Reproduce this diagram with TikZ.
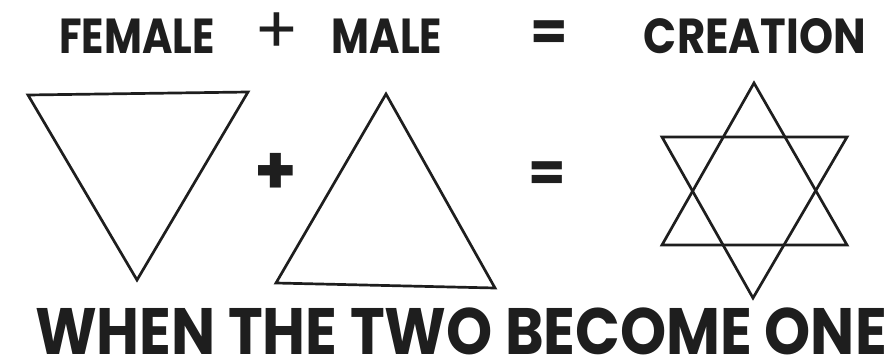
\documentclass[tikz,border=0pt]{standalone}
\usepackage{fontspec}
\setmainfont{Poppins}
\definecolor{ink}{HTML}{1E1E1E}
\begin{document}
\begin{tikzpicture}[x=0.03cm, y=-0.03cm,
  word/.style={font=\fontsize{42}{42}\selectfont\bfseries, text=ink,
    anchor=base, inner sep=0pt, xscale=0.84},
  motto/.style={font=\fontsize{56}{56}\selectfont\bfseries, text=ink,
    anchor=base, inner sep=0pt, xscale=0.895},
  sign/.style={font=\fontsize{56}{56}\selectfont, text=ink, inner sep=0pt},
  bigsign/.style={font=\fontsize{46}{46}\selectfont\bfseries, text=ink, inner sep=0pt},
  tri/.style={draw=ink, line width=2.3pt, line join=miter},
]
\useasboundingbox[fill=white] (0,0) rectangle (896,363);

% Top line
\node[word] (female) at (137, 53) {FEMALE};
\node[sign] (plus1) at (277, 33) {+};
\node[word] (male) at (387, 53) {MALE};
\node[bigsign] (eq1) at (549, 36) {=};
\node[word, xscale=1.05] (creation) at (755, 53) {CREATION};

% Female: down triangle
\coordinate (f1) at (28, 95);
\coordinate (f2) at (248, 92);
\coordinate (f3) at (137, 280);
\draw[tri] (f1) -- (f2) -- (f3) -- cycle;

\node[bigsign, font=\fontsize{58}{58}\selectfont\bfseries] (plus2) at (276, 174) {+};

% Male: up triangle
\coordinate (m1) at (386, 94);
\coordinate (m2) at (495, 288);
\coordinate (m3) at (276, 283);
\draw[tri] (m1) -- (m2) -- (m3) -- cycle;

\node[bigsign] (eq2) at (547, 177) {=};

% Creation: both triangles
\coordinate (su1) at (754, 83);
\coordinate (su2) at (847, 245);
\coordinate (su3) at (662, 245);
\draw[tri] (su1) -- (su2) -- (su3) -- cycle;
\coordinate (sd1) at (662, 137);
\coordinate (sd2) at (847, 137);
\coordinate (sd3) at (753, 298);
\draw[tri] (sd1) -- (sd2) -- (sd3) -- cycle;

% Bottom line
\node[motto] (motto) at (461, 354) {WHEN THE TWO BECOME ONE};

\end{tikzpicture}
\end{document}
